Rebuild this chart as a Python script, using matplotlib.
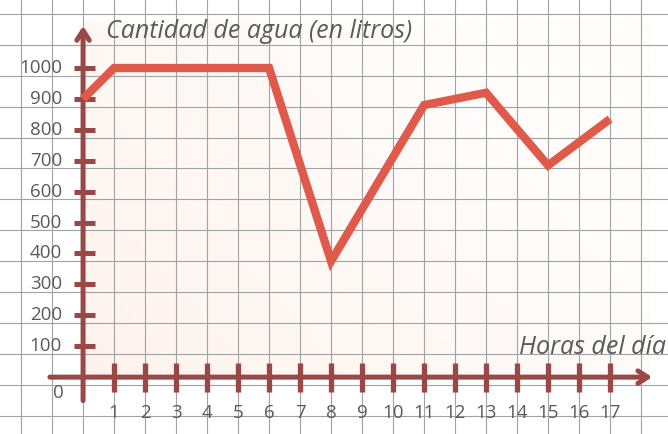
import numpy as np
import matplotlib
matplotlib.use("Agg")
import matplotlib.pyplot as plt

# hours of the day and water amount (litres)
horas = [0, 1, 6, 8, 11, 13, 15, 17]
litros = [900, 1000, 1000, 375, 880, 920, 685, 835]

x_ticks = list(range(1, 18))
y_ticks = list(range(100, 1001, 100))

axis_col = "#9a4845"
line_col = "#e05a4c"
text_col = "#5a5a5a"

fig = plt.figure(figsize=(6.68, 4.34), dpi=100)
ax = fig.add_axes([0, 0, 1, 1])
ax.set_xlim(-2.68, 18.87)
ax.set_ylim(-184, 1220)
ax.set_facecolor("#d8dbd9")
ax.axis("off")

# squared paper
for gx in range(-2, 19):
    ax.axvline(gx, color="#a0a3a2", lw=0.8, zorder=1)
for gy in range(-125, 1220, 100):
    ax.axhline(gy, color="#a0a3a2", lw=0.8, zorder=1)

# pinkish tint of the printed quadrant, fading to the right and upward
gx_, gy_ = np.meshgrid(np.linspace(0, 1, 200), np.linspace(0, 1, 100))
grad = np.clip(1 - 0.9 * gx_ - 0.5 * gy_, 0, 1)
ax.imshow(grad, extent=(0, 18.3, 0, 1150), origin="lower", aspect="auto",
          cmap="Reds", vmin=0, vmax=6, alpha=0.3, zorder=0.5)

# axes with arrows
ax.annotate("", xy=(0, 1145), xytext=(0, -85),
            arrowprops=dict(arrowstyle="->,head_length=0.7,head_width=0.45",
                            color=axis_col, lw=3.6), zorder=3)
ax.annotate("", xy=(18.45, 0), xytext=(-1.16, 0),
            arrowprops=dict(arrowstyle="->,head_length=0.7,head_width=0.45",
                            color=axis_col, lw=3.6), zorder=3)
ax.hlines(y_ticks, -0.3, 0.4, color=axis_col, lw=3.6, zorder=3)
ax.vlines(x_ticks, -48, 45, color=axis_col, lw=3.8, zorder=3)

# data line
ax.plot(horas, litros, color=line_col, lw=6, solid_joinstyle="miter",
        solid_capstyle="butt", zorder=4)

font = "Open Sans"
for v in y_ticks:
    ax.text(-0.68, v, str(v), ha="right", va="center", fontsize=13.5,
            color=text_col, family=font, zorder=5)
for h in x_ticks:
    ax.text(h, -117, str(h), ha="center", va="center", fontsize=13.5,
            color=text_col, family=font, zorder=5)
ax.text(-0.8, -52, "0", ha="center", va="center", fontsize=13.5,
        color=text_col, family=font, zorder=5)

ax.text(0.75, 1117, "Cantidad de agua (en litros)", ha="left", va="center",
        fontsize=18, style="italic", color=text_col, family=font, zorder=5)
ax.text(14.05, 97, "Horas del día", ha="left", va="center",
        fontsize=18, style="italic", color=text_col, family=font, zorder=5)

fig.savefig("out.png", dpi=100)
